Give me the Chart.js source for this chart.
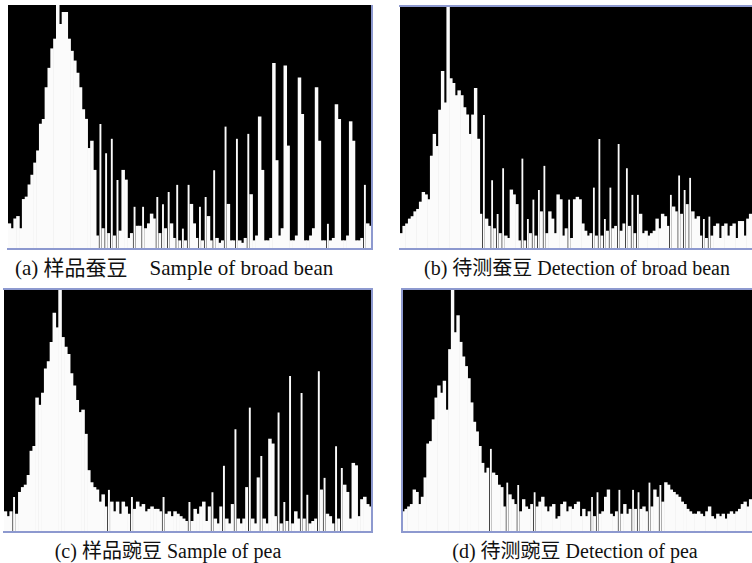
<!DOCTYPE html>
<html>
<head>
<meta charset="utf-8">
<script src="https://cdn.jsdelivr.net/npm/chart.js@4/dist/chart.umd.min.js"></script>
<style>
  body { margin: 0; background: #fff; width: 752px; height: 563px; overflow: hidden; position: relative; }
  .panel { position: absolute; }
  .cap {
    position: absolute; text-align: center; white-space: nowrap;
    font-family: "Liberation Serif", "Times New Roman", "DejaVu Serif", "Noto Sans CJK SC", serif;
    font-size: 20px; line-height: 24px; color: #111;
  }
  .gap { display: inline-block; width: 22px; }
</style>
</head>
<body>
<div class="panel" id="pa"><canvas id="ca"></canvas></div>
<div class="panel" id="pb"><canvas id="cb"></canvas></div>
<div class="panel" id="pc"><canvas id="cc"></canvas></div>
<div class="panel" id="pd"><canvas id="cd"></canvas></div>
<div class="cap" style="left:15px;top:256px;text-align:left;font-size:21px;">(a) 样品蚕豆<span class="gap"></span>Sample of broad bean</div>
<div class="cap" style="left:417px;width:320px;top:256px;">(b) 待测蚕豆 Detection of broad bean</div>
<div class="cap" style="left:28px;width:280px;top:539px;">(c) 样品豌豆 Sample of pea</div>
<div class="cap" style="left:435px;width:280px;top:539px;">(d) 待测豌豆 Detection of pea</div>
<script>
// histogram heights, % of the panel height, 128 grey-level bins each
var binsA = [
  10, 8, 12, 13, 8, 20, 21, 26, 30, 35,
  40, 51, 53, 66, 74, 82, 86, 100, 92, 97,
  97, 86, 81, 77, 72, 66, 57, 53, 41, 44,
  32, 5, 51, 8, 39, 6, 45, 5, 28, 7,
  32, 28, 4, 6, 17, 9, 9, 17, 8, 10,
  14, 12, 21, 6, 18, 8, 23, 10, 4, 26,
  3, 8, 3, 26, 18, 10, 4, 17, 3, 21,
  13, 3, 32, 4, 2, 3, 50, 18, 3, 3,
  45, 3, 2, 4, 47, 22, 3, 5, 54, 32,
  3, 3, 4, 76, 36, 5, 8, 75, 42, 3,
  3, 5, 70, 55, 3, 3, 5, 8, 66, 44,
  3, 3, 10, 3, 4, 59, 53, 3, 3, 5,
  52, 44, 3, 3, 4, 26, 10, 9
];
var binsB = [
  6, 9, 10, 12, 13, 15, 16, 19, 23, 22,
  20, 38, 47, 42, 57, 73, 60, 100, 70, 68,
  63, 65, 63, 58, 55, 47, 55, 66, 45, 14,
  55, 12, 9, 28, 8, 14, 6, 33, 5, 4,
  24, 22, 18, 3, 37, 3, 12, 6, 20, 5,
  24, 15, 34, 6, 15, 12, 6, 22, 20, 5,
  8, 20, 4, 20, 21, 20, 10, 7, 5, 6,
  25, 5, 45, 5, 12, 7, 25, 8, 9, 43,
  7, 10, 33, 9, 22, 6, 22, 14, 6, 7,
  5, 6, 7, 12, 8, 14, 13, 9, 22, 17,
  15, 30, 14, 24, 18, 29, 15, 12, 13, 5,
  12, 4, 13, 5, 9, 10, 4, 9, 10, 5,
  9, 10, 4, 11, 11, 5, 12, 14
];
var binsC = [
  8, 6, 8, 14, 7, 16, 18, 19, 23, 33,
  35, 55, 52, 57, 67, 70, 78, 90, 84, 100,
  80, 76, 73, 65, 60, 54, 49, 50, 40, 25,
  20, 18, 17, 12, 15, 10, 17, 12, 8, 12,
  7, 12, 10, 7, 14, 9, 12, 10, 11, 8,
  9, 10, 9, 9, 8, 14, 7, 8, 6, 8,
  7, 6, 5, 4, 12, 4, 9, 7, 10, 12,
  4, 10, 16, 5, 3, 10, 27, 5, 3, 11,
  42, 5, 3, 5, 18, 51, 5, 3, 22, 31,
  5, 3, 38, 36, 6, 49, 3, 12, 4, 64,
  3, 8, 5, 57, 5, 15, 3, 4, 5, 66,
  17, 22, 7, 6, 3, 35, 5, 26, 19, 16,
  5, 28, 27, 6, 13, 14, 11, 10
];
var binsD = [
  8, 9, 10, 11, 17, 16, 11, 14, 22, 36,
  37, 46, 55, 60, 57, 62, 50, 75, 100, 82,
  89, 78, 72, 68, 63, 53, 45, 41, 35, 28,
  24, 26, 34, 24, 23, 19, 18, 10, 20, 15,
  13, 11, 19, 8, 13, 10, 9, 11, 16, 10,
  12, 14, 10, 8, 10, 11, 5, 6, 11, 12,
  8, 10, 9, 11, 12, 6, 9, 6, 8, 14,
  6, 16, 7, 8, 14, 17, 7, 6, 8, 17,
  7, 11, 7, 9, 17, 9, 16, 9, 10, 8,
  20, 10, 17, 14, 19, 12, 20, 19, 17, 16,
  15, 14, 12, 11, 9, 8, 7, 7, 8, 7,
  6, 8, 10, 6, 5, 7, 6, 7, 5, 7,
  8, 7, 8, 9, 11, 12, 10, 13
];
var greyLevels = binsA.map(function (v, i) { return i * 2; });

var PAD = 2;
var frame = {
  id: 'frame',
  beforeDraw: function (chart) {
    var a = chart.chartArea, ctx = chart.ctx;
    ctx.save();
    ctx.fillStyle = '#000';
    ctx.fillRect(a.left, a.top, a.right - a.left, a.bottom - a.top);
    ctx.restore();
  },
  afterDraw: function (chart, args, opts) {
    var a = chart.chartArea, ctx = chart.ctx;
    ctx.save();
    ctx.strokeStyle = '#8d99cf';
    ctx.lineWidth = 2;
    ctx.beginPath();
    (opts.sides || []).forEach(function (s) {
      if (s === 'top') { ctx.moveTo(a.left - 1, a.top); ctx.lineTo(a.right + 1, a.top); }
      if (s === 'bottom') { ctx.moveTo(a.left - 1, a.bottom + 1); ctx.lineTo(a.right + 1, a.bottom + 1); }
      if (s === 'left') { ctx.moveTo(a.left, a.top); ctx.lineTo(a.left, a.bottom + 1); }
      if (s === 'right') { ctx.moveTo(a.right, a.top); ctx.lineTo(a.right, a.bottom + 1); }
    });
    ctx.stroke();
    ctx.restore();
  }
};

// an isolated bar standing well above low neighbours is drawn as a thin line
function spikeEdge(c) {
  var d = c.dataset.data, i = c.dataIndex, v = d[i];
  var l = i > 0 ? d[i - 1] : 0, r = i < d.length - 1 ? d[i + 1] : 0;
  var m = Math.max(l, r);
  if (m < 30 && v > m + 4) return { left: 0.8, right: 0.8, top: 0, bottom: 0 };
  return 0;
}

function histogram(id, wrap, bins, box, sides) {
  var el = document.getElementById(wrap);
  el.style.left = (box[0] - PAD) + 'px';
  el.style.top = (box[1] - PAD) + 'px';
  var cv = document.getElementById(id);
  cv.width = box[2] + PAD * 2;
  cv.height = box[3] + PAD * 2;
  new Chart(cv.getContext('2d'), {
    type: 'bar',
    data: {
      labels: greyLevels,
      datasets: [{
        data: bins,
        backgroundColor: '#fbfbfb',
        borderColor: '#000',
        borderWidth: spikeEdge,
        borderSkipped: false,
        barPercentage: 1,
        categoryPercentage: 1
      }]
    },
    options: {
      responsive: false,
      animation: false,
      devicePixelRatio: 1,
      layout: { padding: PAD },
      scales: {
        x: { display: false },
        y: { display: false, min: 0, max: 100 }
      },
      plugins: {
        legend: { display: false },
        tooltip: { enabled: false },
        frame: { sides: sides }
      }
    },
    plugins: [frame]
  });
}

histogram('ca', 'pa', binsA, [8, 5, 364, 243], ['bottom', 'right']);
histogram('cb', 'pb', binsB, [400, 6, 352, 242], ['top', 'bottom']);
histogram('cc', 'pc', binsC, [4, 289, 368, 242], ['top', 'bottom', 'right']);
histogram('cd', 'pd', binsD, [402, 289, 350, 242], ['top', 'bottom', 'left']);
</script>
</body>
</html>
